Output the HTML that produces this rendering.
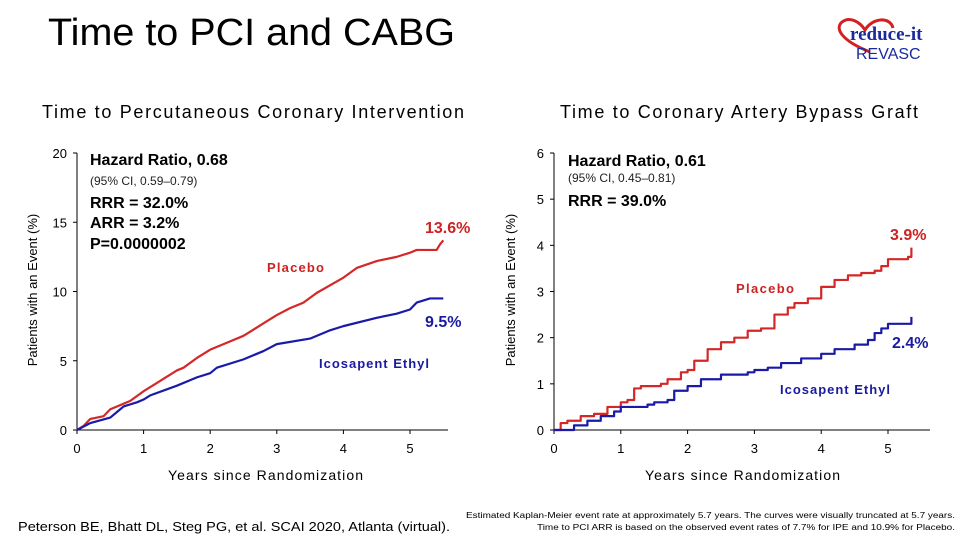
<!DOCTYPE html>
<html><head><meta charset="utf-8"><style>
body{margin:0;background:#fff;}
svg{display:block;font-family:"Liberation Sans",sans-serif;}
</style></head><body>
<svg id="s" width="960" height="540" viewBox="0 0 960 540">
<text x="48" y="45" font-size="38" textLength="407" lengthAdjust="spacingAndGlyphs" fill="#000">Time to PCI and CABG</text>
<g>
<path d="M870 52 C840 40 835 28 842 22 C850 16 860 22 865 30 C872 18 890 16 893 28" fill="none" stroke="#d42020" stroke-width="3"/>
<text x="850" y="40" font-size="19" font-weight="bold" font-family="Liberation Serif,serif" fill="#1a2a9a">reduce-it</text>
<text x="856" y="59" font-size="16" fill="#1a2a9a">REVASC</text>
</g>
<text x="42" y="118" font-size="18" textLength="422" lengthAdjust="spacing">Time to Percutaneous Coronary Intervention</text>
<text x="560" y="118" font-size="18" textLength="358" lengthAdjust="spacing">Time to Coronary Artery Bypass Graft</text>
<g id="L"></g><g id="R"></g>
<text x="90" y="165" font-size="16" font-weight="bold">Hazard Ratio, 0.68</text>
<text x="90" y="185" font-size="12" fill="#222">(95% CI, 0.59–0.79)</text>
<text x="90" y="208" font-size="16" font-weight="bold">RRR = 32.0%</text>
<text x="90" y="228" font-size="16" font-weight="bold">ARR = 3.2%</text>
<text x="90" y="249" font-size="16" font-weight="bold">P=0.0000002</text>
<text x="425" y="233" font-size="16" font-weight="bold" fill="#cc2222">13.6%</text>
<text x="425" y="327" font-size="16" font-weight="bold" fill="#1a1aa0">9.5%</text>
<text x="267" y="272" font-size="13" font-weight="bold" textLength="57" lengthAdjust="spacing" fill="#cc2222">Placebo</text>
<text x="319" y="368" font-size="13" font-weight="bold" textLength="110" lengthAdjust="spacing" fill="#1a1aa0">Icosapent Ethyl</text>
<text x="568" y="166" font-size="16" font-weight="bold">Hazard Ratio, 0.61</text>
<text x="568" y="182" font-size="12" fill="#222">(95% CI, 0.45–0.81)</text>
<text x="568" y="206" font-size="16" font-weight="bold">RRR = 39.0%</text>
<text x="890" y="240" font-size="16" font-weight="bold" fill="#cc2222">3.9%</text>
<text x="892" y="348" font-size="16" font-weight="bold" fill="#1a1aa0">2.4%</text>
<text x="736" y="293" font-size="13" font-weight="bold" textLength="58" lengthAdjust="spacing" fill="#cc2222">Placebo</text>
<text x="780" y="394" font-size="13" font-weight="bold" textLength="110" lengthAdjust="spacing" fill="#1a1aa0">Icosapent Ethyl</text>
<text x="168" y="480" font-size="14" textLength="195" lengthAdjust="spacing">Years since Randomization</text>
<text x="645" y="480" font-size="14" textLength="195" lengthAdjust="spacing">Years since Randomization</text>
<text transform="translate(37,290) rotate(-90)" font-size="13" text-anchor="middle">Patients with an Event (%)</text>
<text transform="translate(515,290) rotate(-90)" font-size="13" text-anchor="middle">Patients with an Event (%)</text>
<text x="18" y="531" font-size="12.5" textLength="432" lengthAdjust="spacingAndGlyphs">Peterson BE, Bhatt DL, Steg PG, et al. SCAI 2020, Atlanta (virtual).</text>
<text x="466" y="518" font-size="8" textLength="489" lengthAdjust="spacingAndGlyphs">Estimated Kaplan-Meier event rate at approximately 5.7 years. The curves were visually truncated at 5.7 years.</text>
<text x="537" y="530" font-size="8" textLength="418" lengthAdjust="spacingAndGlyphs">Time to PCI ARR is based on the observed event rates of 7.7% for IPE and 10.9% for Placebo.</text>
</svg>
<script>
const leftYTicks=[0,5,10,15,20];
const rightYTicks=[0,1,2,3,4,5,6];
const xTicks=[0,1,2,3,4,5];
const pciPlaceboYears=[0,.1,.2,.4,.5,.6,.8,1,1.2,1.5,1.6,1.8,2,2.2,2.5,2.8,3,3.2,3.4,3.6,4,4.2,4.5,4.8,5,5.1,5.4,5.45,5.5];
const pciPlaceboPct=[0,.3,.8,1,1.5,1.7,2.1,2.8,3.4,4.3,4.5,5.2,5.8,6.2,6.8,7.7,8.3,8.8,9.2,9.9,11,11.7,12.2,12.5,12.8,13,13,13.4,13.7];
const pciIpeYears=[0,.2,.5,.6,.7,.9,1,1.1,1.5,1.8,2,2.1,2.5,2.8,3,3.5,3.8,4,4.5,4.8,5,5.1,5.3,5.5];
const pciIpePct=[0,.5,.9,1.3,1.7,2,2.2,2.5,3.2,3.8,4.1,4.5,5.1,5.7,6.2,6.6,7.2,7.5,8.1,8.4,8.7,9.2,9.5,9.5];
const cabgPlaceboYears=[0,.1,.2,.4,.6,.8,1,1.1,1.2,1.3,1.6,1.7,1.9,2,2.1,2.3,2.5,2.7,2.9,3.1,3.3,3.5,3.6,3.8,4,4.2,4.4,4.6,4.8,4.9,5,5.3,5.35];
const cabgPlaceboPct=[0,.15,.2,.3,.35,.5,.6,.65,.9,.95,1,1.1,1.25,1.3,1.5,1.75,1.9,2,2.15,2.2,2.5,2.65,2.75,2.85,3.1,3.25,3.35,3.4,3.45,3.55,3.7,3.75,3.95];
const cabgIpeYears=[0,.3,.5,.7,.9,1,1.4,1.5,1.7,1.8,2,2.2,2.5,2.9,3,3.2,3.4,3.7,4,4.2,4.5,4.7,4.8,4.9,5,5.35,5.35];
const cabgIpePct=[0,.1,.2,.3,.4,.5,.55,.6,.65,.85,.95,1.1,1.2,1.25,1.3,1.35,1.45,1.55,1.65,1.75,1.85,1.95,2.1,2.2,2.3,2.35,2.45];
const NS='http://www.w3.org/2000/svg';
function mk(p,t,a){const e=document.createElementNS(NS,t);for(const k in a)e.setAttribute(k,a[k]);p.appendChild(e);return e;}
function chart(g,x0,xEnd,pxYear,y0,yTop,yMax,yt,series,step,side){
  const xs=v=>x0+v*pxYear, ys=v=>y0-(y0-yTop)*v/yMax;
  let ax=mk(g,'path',{d:`M${x0} ${yTop}V${y0}H${xEnd}`,stroke:'#000',fill:'none','stroke-width':1});
  
  
  yt.forEach(v=>{mk(g,'line',{x1:x0-4,x2:x0,y1:ys(v),y2:ys(v),stroke:'#000'});
    let t=mk(g,'text',{x:x0-10,y:ys(v)+5,'font-size':13,'text-anchor':'end'});t.textContent=v;
    
    });
  xTicks.forEach(v=>{mk(g,'line',{x1:xs(v),x2:xs(v),y1:y0,y2:y0+4,stroke:'#000'});
    let t=mk(g,'text',{x:xs(v),y:y0+23,'font-size':13,'text-anchor':'middle'});t.textContent=v;
    
    });
  series.forEach(([xv,yv,c,n])=>{let d='';
    xv.forEach((x,i)=>{if(i==0)d+=`M${xs(x)} ${ys(yv[i])}`;else if(step)d+=`H${xs(x)}V${ys(yv[i])}`;else d+=`L${xs(x)} ${ys(yv[i])}`;});
    let p=mk(g,'path',{d,stroke:c,fill:'none','stroke-width':2.2,'stroke-linejoin':'round'});
    
    });
}
chart(document.getElementById('L'),77,448,66.6,430,153,20,leftYTicks,[[pciPlaceboYears,pciPlaceboPct,'#d42828','pci-placebo-curve'],[pciIpeYears,pciIpePct,'#1a1aa8','pci-ipe-curve']],false,'left');
chart(document.getElementById('R'),554,930,66.8,430,153,6,rightYTicks,[[cabgPlaceboYears,cabgPlaceboPct,'#d42828','cabg-placebo-curve'],[cabgIpeYears,cabgIpePct,'#1a1aa8','cabg-ipe-curve']],true,'right');
</script>
</body></html>
